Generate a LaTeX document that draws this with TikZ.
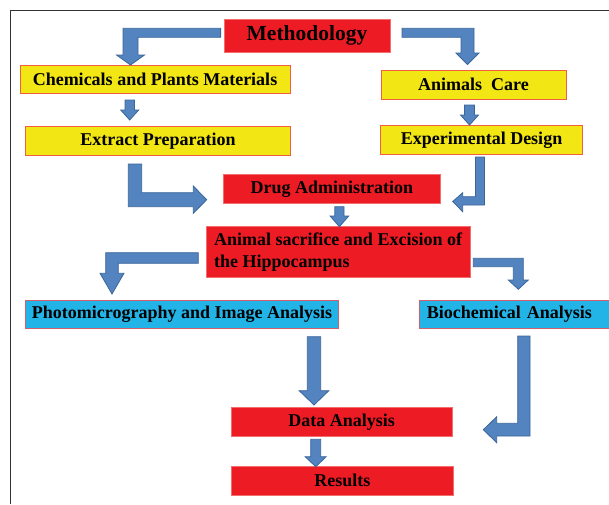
\documentclass[tikz,border=0pt]{standalone}
\usepackage{fontspec}
\setmainfont{Liberation Serif}
\definecolor{boxred}{HTML}{ED1C24}
\definecolor{redline}{HTML}{F26D6D}
\definecolor{boxyellow}{HTML}{F2E614}
\definecolor{yellowline}{HTML}{F0603C}
\definecolor{boxblue}{HTML}{22B4E6}
\definecolor{blueline}{HTML}{D0606E}
\definecolor{arrowfill}{HTML}{5384C0}
\definecolor{arrowline}{HTML}{3A659A}
\definecolor{framegray}{HTML}{333333}
\tikzset{
  stepbox/.style={rectangle, inner sep=0pt, line width=1pt, font=\fontsize{18}{22}\selectfont\bfseries},
  redbox/.style={stepbox, fill=boxred, draw=redline},
  yellowbox/.style={stepbox, fill=boxyellow, draw=yellowline},
  bluebox/.style={stepbox, fill=boxblue, draw=blueline},
  blockarrow/.style={fill=arrowfill, draw=arrowline, line width=0.8pt, line join=miter}
}
\newcommand{\downblock}[6]{\filldraw[blockarrow] (#1-#5,#2) -- (#1+#5,#2) -- (#1+#5,#3) -- (#1+#6,#3) -- (#1,#4) -- (#1-#6,#3) -- (#1-#5,#3) -- cycle;}
\begin{document}
\begin{tikzpicture}[x=1pt, y=-1pt]
\useasboundingbox (0,0) rectangle (609,504);
\draw[framegray, line width=1.3pt] (10.5,504) -- (10.5,10.2) -- (609,10.2);
\node[redbox, minimum width=166, minimum height=33, font=\fontsize{21.5}{24}\selectfont\bfseries] (meth) at (307,35.5) {Methodology};
\node[yellowbox, minimum width=270, minimum height=28] (chem) at (155,79) {Chemicals and Plants Materials};
\node[yellowbox, minimum width=185, minimum height=29] (care) at (473.5,84.5) {Animals\ \ Care};
\node[yellowbox, minimum width=265, minimum height=29] (ext) at (158,141) {Extract Preparation};
\node[yellowbox, minimum width=202, minimum height=28.5] (expd) at (481.5,140.2) {Experimental Design};
\node[redbox, minimum width=217, minimum height=28.5] (drug) at (331.8,189) {Drug Administration};
\node[redbox, minimum width=264, minimum height=50.6, align=left] (sac) at (338,252) {Animal sacrifice and Excision of\\the Hippocampus};
\node[bluebox, minimum width=313, minimum height=28.3] (photo) at (182,314.2) {Photomicrography and Image Analysis};
\node[bluebox, anchor=west, minimum height=28.3, text width=180pt, align=left, inner xsep=7pt] (bio) at (419.4,314.2) {Biochemical Analysis};
\node[redbox, minimum width=221.4, minimum height=28.7] (data) at (341.7,421.7) {Data Analysis};
\node[redbox, minimum width=222.6, minimum height=29.3] (res) at (342.3,480.7) {Results};
\filldraw[blockarrow] (220.6,28.3) -- (123,28.3) -- (123,55) -- (116.5,55) -- (130.5,65) -- (144.5,55) -- (138,55) -- (138,37.3) -- (220.6,37.3) -- cycle;
\filldraw[blockarrow] (402,28.3) -- (474,28.3) -- (474,53) -- (479,53) -- (467.5,64.5) -- (456,53) -- (461,53) -- (461,37.3) -- (402,37.3) -- cycle;
\downblock{129.7}{100}{110}{120}{4.7}{9}
\downblock{469.5}{105}{115}{125}{5}{9}
\filldraw[blockarrow] (128.3,164) -- (141.7,164) -- (141.7,192.7) -- (193.3,192.7) -- (193.3,186) -- (206.7,199.7) -- (193.3,213.3) -- (193.3,206.7) -- (128.3,206.7) -- cycle;
\filldraw[blockarrow] (475.5,157) -- (484.5,157) -- (484.5,205) -- (462.7,205) -- (462.7,211.7) -- (452.7,201.5) -- (462.7,192.7) -- (462.7,196.7) -- (475.5,196.7) -- cycle;
\downblock{339.4}{206.7}{216}{226.7}{4.6}{9.3}
\filldraw[blockarrow] (198.3,252.7) -- (105.7,252.7) -- (105.7,273.3) -- (100,273.3) -- (112,294) -- (124,273.3) -- (118.3,273.3) -- (118.3,263.3) -- (198.3,263.3) -- cycle;
\filldraw[blockarrow] (473.3,258.3) -- (523.3,258.3) -- (523.3,280) -- (528.3,280) -- (518.3,289.3) -- (508.3,280) -- (513.3,280) -- (513.3,266.7) -- (473.3,266.7) -- cycle;
\downblock{314}{336.7}{390.7}{405}{6.7}{14.8}
\filldraw[blockarrow] (517.7,336) -- (530,336) -- (530,436) -- (496.7,436) -- (496.7,442.7) -- (483.3,429.7) -- (496.7,416.7) -- (496.7,423.3) -- (517.7,423.3) -- cycle;
\downblock{315.7}{439.3}{456.7}{466.7}{5}{10.5}
\end{tikzpicture}
\end{document}
